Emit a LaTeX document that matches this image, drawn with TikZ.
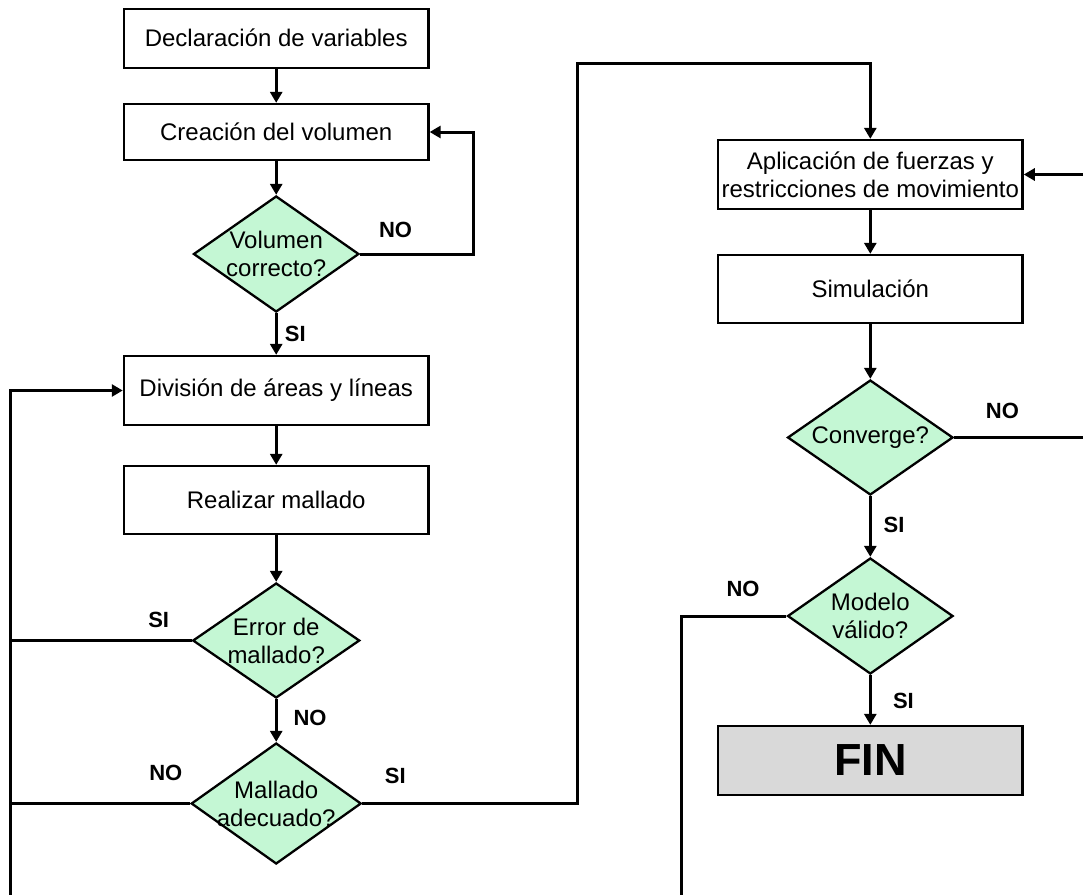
\documentclass[tikz,border=0pt]{standalone}
\usepackage{fontspec}
\setmainfont{Liberation Sans}
\usetikzlibrary{arrows.meta,shapes.geometric}
\definecolor{mint}{RGB}{196,247,212}
\definecolor{fingray}{RGB}{217,217,217}
\begin{document}
\begin{tikzpicture}[x=1pt,y=-1pt,
  procbox/.style={draw=black, line width=2.3pt, fill=white, rectangle, inner sep=0pt, align=center,
    font=\fontsize{24}{28}\selectfont, minimum width=304.6pt},
  decis/.style={draw=black, line width=2.3pt, fill=mint, diamond, inner sep=0pt},
  dtext/.style={font=\fontsize{24}{28}\selectfont, align=center, inner sep=0pt},
  lab/.style={font=\bfseries\fontsize{22}{22}\selectfont, inner sep=0pt},
  conn/.style={line width=3pt, -{Triangle[length=11pt,width=12pt]}},
  plain/.style={line width=3pt}]
\useasboundingbox (0,0) rectangle (1083,894);
\fill[white] (0,0) rectangle (1083,894);

% left column
\node[procbox, minimum height=59pt] (b1) at (276.2,38.2) {Declaración de variables};
\node[procbox, minimum height=56pt] (b2) at (276.2,132) {Creación del volumen};
\node[decis, minimum width=165.5pt, minimum height=116pt] (d1) at (276.2,254) {};
\node[dtext] (t1) at (d1) {Volumen\\correcto?};
\node[procbox, minimum height=69pt] (b3) at (276.2,390.5) {División de áreas y líneas};
\node[procbox, minimum height=68pt] (b4) at (276.2,500) {Realizar mallado};
\node[decis, minimum width=167pt, minimum height=115pt] (d2) at (276.2,640.5) {};
\node[dtext] (t2) at (d2) {Error de\\mallado?};
\node[decis, minimum width=170pt, minimum height=121pt] (d3) at (276.2,803.5) {};
\node[dtext] (t3) at (d3) {Mallado\\adecuado?};

% right column
\node[procbox, minimum height=69pt] (b5) at (870.3,174.5) {Aplicación de fuerzas y\\restricciones de movimiento};
\node[procbox, minimum height=68pt] (b6) at (870.3,289) {Simulación};
\node[decis, minimum width=165.5pt, minimum height=115pt] (d4) at (870.3,437.5) {};
\node[dtext] (t4) at (d4) {Converge?};
\node[decis, minimum width=165.5pt, minimum height=116pt] (d5) at (870.3,616) {};
\node[dtext] (t5) at (d5) {Modelo\\válido?};
\node[procbox, fill=fingray, minimum height=69pt,
  font=\bfseries\fontsize{45}{45}\selectfont] (fin) at (870.3,760.5) {FIN};

% helper coordinates
\coordinate (r1) at (473.5,254);
\coordinate (lb) at (10.4,900);
\coordinate (c1) at (577,63.5);
\coordinate (re) at (1095,300);
\coordinate (mb) at (681.2,900);

% connectors
\draw[conn] (b1.south) -- (b2.north);
\draw[conn] (b2.south) -- (d1.north);
\draw[conn] (d1.east) -- (r1) |- (b2.east);
\draw[conn] (d1.south) -- (b3.north);
\draw[conn] (lb) |- (b3.west);
\draw[conn] (b3.south) -- (b4.north);
\draw[conn] (b4.south) -- (d2.north);
\draw[plain] (d2.west) -- (d2.west -| lb);
\draw[conn] (d2.south) -- (d3.north);
\draw[plain] (d3.west) -- (d3.west -| lb);
\draw[conn] (d3.east) -| (c1) -| (b5.north);
\draw[conn] (b5.south) -- (b6.north);
\draw[conn] (b6.south) -- (d4.north);
\draw[conn] (d4.east) -| (re) |- (b5.east);
\draw[conn] (d4.south) -- (d5.north);
\draw[plain] (d5.west) -| (mb);
\draw[conn] (d5.south) -- (fin.north);

% labels
\node[lab] (l1) at (395.5,230) {NO};
\node[lab] (l2) at (295.3,333.5) {SI};
\node[lab] (l3) at (158.7,619.5) {SI};
\node[lab] (l4) at (310.1,718) {NO};
\node[lab] (l5) at (165.8,772.5) {NO};
\node[lab] (l6) at (395.3,775.5) {SI};
\node[lab] (l7) at (1002.4,411) {NO};
\node[lab] (l8) at (894.1,525) {SI};
\node[lab] (l9) at (743,589) {NO};
\node[lab] (l10) at (903.4,701) {SI};
\end{tikzpicture}
\end{document}
